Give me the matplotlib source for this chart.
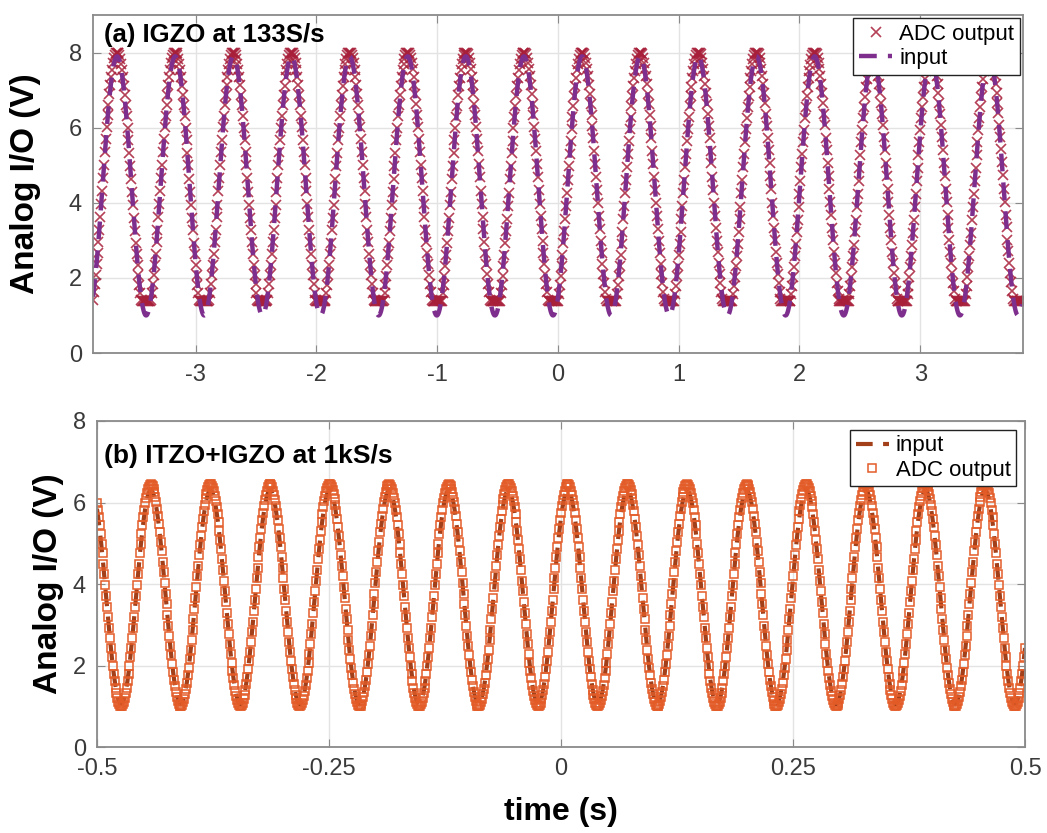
import numpy as np
import matplotlib
matplotlib.use("Agg")
import matplotlib.pyplot as plt

plt.rcParams["font.family"] = ["Liberation Sans", "DejaVu Sans"]
plt.rcParams["axes.unicode_minus"] = False

# ---- data ----
# (a) IGZO at 133 S/s, 1024 samples, 16 sine periods
a_rate = 133
a_samples = 1024
a_troughs = [-3.41, -2.93, -2.45, -1.96, -1.48, -1.00, -0.52, -0.04,
             0.44, 0.92, 1.40, 1.89, 2.37, 2.85, 3.33, 3.81]
a_input_range = [1.0, 7.9]
a_adc_range = [1.38, 8.0]

# (b) ITZO+IGZO at 1 kS/s
b_rate = 1000
b_span = [-0.5, 0.5]
b_troughs = [-0.474, -0.410, -0.345, -0.281, -0.217, -0.153, -0.088, -0.024,
             0.040, 0.104, 0.168, 0.233, 0.297, 0.361, 0.425, 0.489]
b_input_range = [1.05, 6.3]
b_adc_range = [1.0, 6.45]

a_xticks = [-3, -2, -1, 0, 1, 2, 3]
b_xticks = [-0.5, -0.25, 0, 0.25, 0.5]
b_xticklabels = ["-0.5", "-0.25", "0", "0.25", "0.5"]


def wave(t, troughs, lo, hi):
    period = np.mean(np.diff(troughs))
    ph = 2 * np.pi * (t - troughs[0]) / period
    return lo + (hi - lo) * (1 - np.cos(ph)) / 2


# sample times
ta = (np.arange(a_samples) - a_samples // 2) / a_rate
ta_fine = np.linspace(ta[0], ta[-1], 4 * a_samples)
tb = np.arange(b_span[0], b_span[1] + 1e-9, 1 / b_rate)
tb_fine = np.linspace(b_span[0], b_span[1], 4 * len(tb))

a_in = wave(ta_fine, a_troughs, *a_input_range)
a_adc = np.clip(wave(ta, a_troughs, a_input_range[0] - 0.1, a_adc_range[1] + 0.05),
                a_adc_range[0], a_adc_range[1])
b_in = wave(tb_fine, b_troughs, *b_input_range)
b_adc = wave(tb, b_troughs, *b_adc_range)

fig = plt.figure(figsize=(10.47, 8.33), dpi=100)
ax1 = fig.add_axes([0.0888, 0.5762, 0.8882, 0.4058])
ax2 = fig.add_axes([0.0926, 0.1032, 0.8864, 0.3914])

spine_col = "#8a8a8a"
for ax in (ax1, ax2):
    ax.grid(True, color="#e3e3e3", linewidth=1)
    ax.set_axisbelow(True)
    ax.tick_params(direction="in", top=True, right=True, length=6,
                   color=spine_col, labelsize=17, labelcolor="#3a3a3a", pad=8)
    for s in ax.spines.values():
        s.set_color(spine_col)
        s.set_linewidth(1.3)

ax1.set_ylabel("Analog I/O (V)", fontsize=24, fontweight="bold", labelpad=20)
ax2.set_ylabel("Analog I/O (V)", fontsize=24, fontweight="bold", labelpad=6)

# panel (a)
ax1.plot(ta, a_adc, linestyle="none", marker="x", markersize=6.5,
         mew=1.2, color="#a81f3a", alpha=0.85, label="ADC output")
ax1.plot(ta_fine, a_in, linestyle=(0, (4, 2.5)), linewidth=3.2,
         color="#7e2f8e", label="input")
ax1.set_xlim(-3.85, 3.85)
ax1.set_ylim(0, 9)
ax1.set_xticks(a_xticks)
ax1.set_yticks([0, 2, 4, 6, 8])
ax1.text(0.012, 0.975, "(a) IGZO at 133S/s", transform=ax1.transAxes,
         fontsize=18.5, fontweight="bold", va="top", ha="left")
leg1 = ax1.legend(loc="upper right", fontsize=16, fancybox=False,
                  edgecolor="#222222", framealpha=1, borderaxespad=0.15,
                  handlelength=1.5, handletextpad=0.3, borderpad=0.25,
                  labelspacing=0.15)
leg1.get_frame().set_linewidth(1.0)

# panel (b)
ax2.plot(tb_fine, b_in, linestyle=(0, (4, 2.5)), linewidth=3.0,
         color="#a3401a", label="input")
ax2.plot(tb, b_adc, linestyle="none", marker="s", markersize=6,
         mfc="none", mew=1.1, color="#e35c28", label="ADC output")
ax2.set_xlim(b_span)
ax2.set_ylim(0, 8)
ax2.set_xticks(b_xticks)
ax2.set_xticklabels(b_xticklabels)
ax2.set_yticks([0, 2, 4, 6, 8])
ax2.text(0.008, 0.93, "(b) ITZO+IGZO at 1kS/s", transform=ax2.transAxes,
         fontsize=19, fontweight="bold", va="top", ha="left")
leg2 = ax2.legend(loc="upper right", fontsize=16, fancybox=False,
                  edgecolor="#222222", framealpha=1, borderaxespad=0.4,
                  handlelength=1.5, handletextpad=0.3, borderpad=0.25,
                  labelspacing=0.15)
leg2.get_frame().set_linewidth(1.0)
ax2.set_xlabel("time (s)", fontsize=23, fontweight="bold", labelpad=12)

fig.savefig("out.png", dpi=100)
